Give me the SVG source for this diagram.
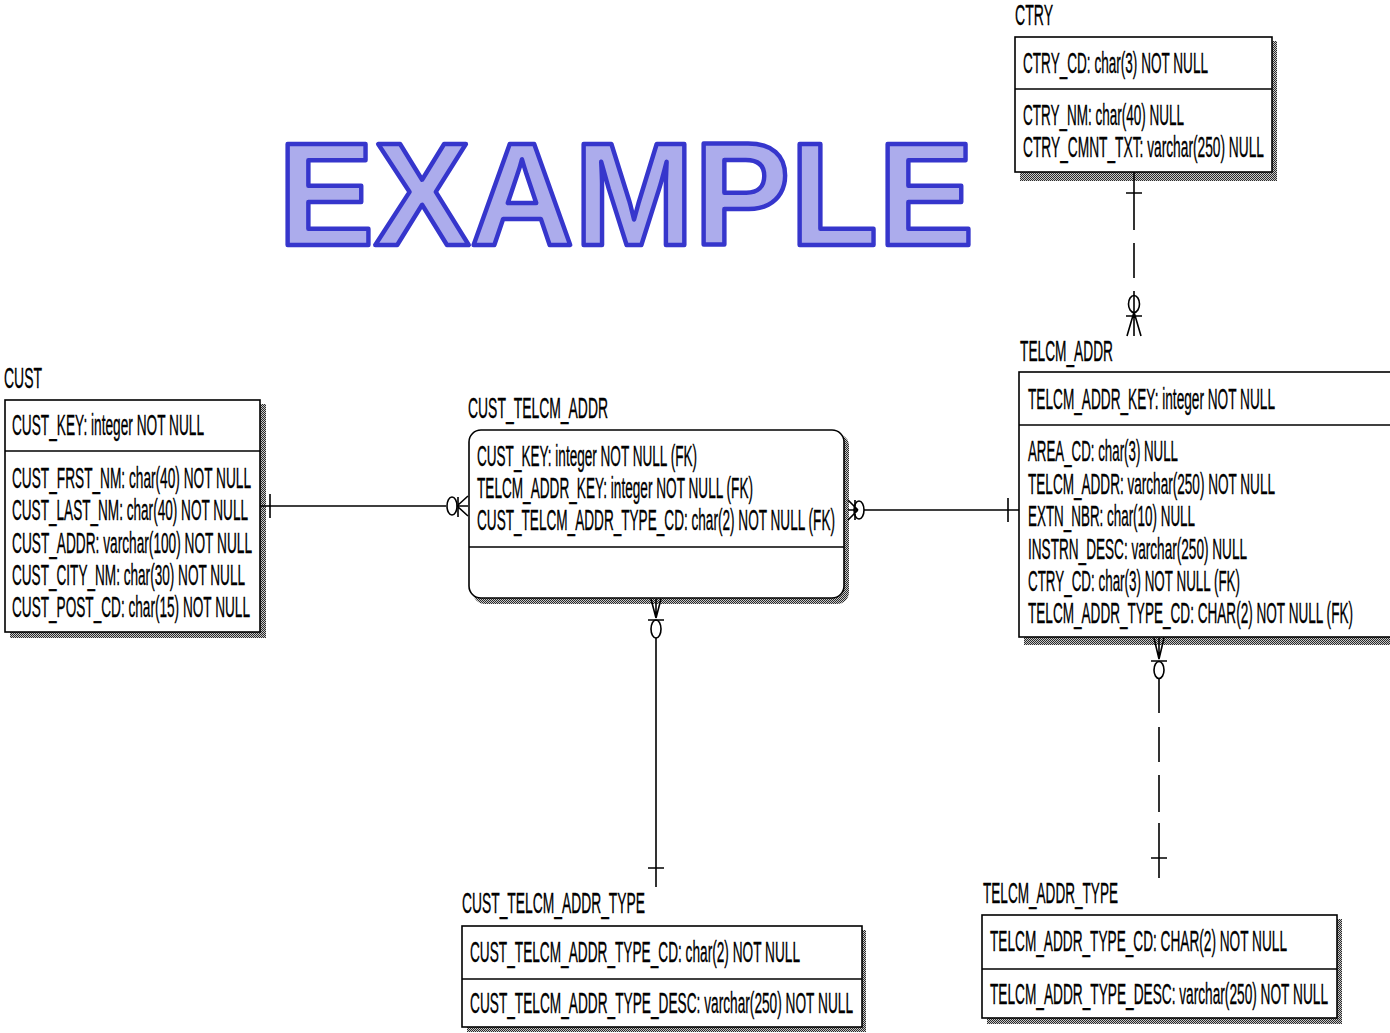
<svg xmlns="http://www.w3.org/2000/svg" width="1390" height="1033" viewBox="0 0 1390 1033">
<defs>
<pattern id="dither" width="2" height="2" patternUnits="userSpaceOnUse"><rect width="2" height="2" fill="#c8c8c8"/><rect width="1" height="1" fill="#2a2a2a"/><rect x="1" y="1" width="1" height="1" fill="#2a2a2a"/></pattern>
<style>
.t{font-family:"Liberation Sans",Arial,sans-serif;font-size:29px;fill:#000;stroke:#000;stroke-width:0.35}
.box{fill:#fff;stroke:#000;stroke-width:1.6}
.sh{fill:url(#dither)}
.div{stroke:#000;stroke-width:1.6}
.c{stroke:#000;stroke-width:1.6;fill:none}
.ex{font-family:"Liberation Sans",Arial,sans-serif;font-weight:bold;font-size:146px;fill:#acacec;stroke:#3636cc;stroke-width:4.5;stroke-linejoin:round}
</style>
</defs>
<rect width="1390" height="1033" fill="#fff"/>
<text class="ex" x="278" y="245" textLength="696" lengthAdjust="spacingAndGlyphs">EXAMPLE</text>

<g id="CTRY">
<text class="t" x="1015" y="25" textLength="38" lengthAdjust="spacingAndGlyphs">CTRY</text>
<rect class="sh" x="1020" y="41" width="257" height="140"/>
<rect class="box" x="1015" y="37" width="257" height="135"/>
<line class="div" x1="1015" y1="89" x2="1272" y2="89"/>
<text class="t" x="1023" y="73" textLength="185" lengthAdjust="spacingAndGlyphs">CTRY_CD: char(3) NOT NULL</text>
<text class="t" x="1023" y="125" textLength="161" lengthAdjust="spacingAndGlyphs">CTRY_NM: char(40) NULL</text>
<text class="t" x="1023" y="157" textLength="241" lengthAdjust="spacingAndGlyphs">CTRY_CMNT_TXT: varchar(250) NULL</text>
</g>

<g id="CUST">
<text class="t" x="4" y="388" textLength="38" lengthAdjust="spacingAndGlyphs">CUST</text>
<rect class="sh" x="10" y="404" width="256" height="234"/>
<rect class="box" x="5" y="400" width="255" height="232"/>
<line class="div" x1="5" y1="451" x2="260" y2="451"/>
<text class="t" x="12" y="435" textLength="192" lengthAdjust="spacingAndGlyphs">CUST_KEY: integer NOT NULL</text>
<text class="t" x="12" y="488" textLength="239" lengthAdjust="spacingAndGlyphs">CUST_FRST_NM: char(40) NOT NULL</text>
<text class="t" x="12" y="520" textLength="236" lengthAdjust="spacingAndGlyphs">CUST_LAST_NM: char(40) NOT NULL</text>
<text class="t" x="12" y="553" textLength="240" lengthAdjust="spacingAndGlyphs">CUST_ADDR: varchar(100) NOT NULL</text>
<text class="t" x="12" y="585" textLength="233" lengthAdjust="spacingAndGlyphs">CUST_CITY_NM: char(30) NOT NULL</text>
<text class="t" x="12" y="617" textLength="238" lengthAdjust="spacingAndGlyphs">CUST_POST_CD: char(15) NOT NULL</text>
</g>

<g id="CUST_TELCM_ADDR">
<text class="t" x="468" y="418" textLength="140" lengthAdjust="spacingAndGlyphs">CUST_TELCM_ADDR</text>
<rect class="sh" x="473" y="434" width="376" height="170" rx="12"/>
<rect class="box" x="469" y="430" width="375" height="168" rx="12"/>
<line class="div" x1="469" y1="547" x2="844" y2="547"/>
<text class="t" x="477" y="466" textLength="220" lengthAdjust="spacingAndGlyphs">CUST_KEY: integer NOT NULL (FK)</text>
<text class="t" x="477" y="498" textLength="276" lengthAdjust="spacingAndGlyphs">TELCM_ADDR_KEY: integer NOT NULL (FK)</text>
<text class="t" x="477" y="530" textLength="358" lengthAdjust="spacingAndGlyphs">CUST_TELCM_ADDR_TYPE_CD: char(2) NOT NULL (FK)</text>
</g>

<g id="TELCM_ADDR">
<text class="t" x="1020" y="361" textLength="93" lengthAdjust="spacingAndGlyphs">TELCM_ADDR</text>
<rect class="sh" x="1024" y="376" width="380" height="269"/>
<rect class="box" x="1019" y="372" width="380" height="265"/>
<line class="div" x1="1019" y1="425" x2="1390" y2="425"/>
<text class="t" x="1028" y="409" textLength="247" lengthAdjust="spacingAndGlyphs">TELCM_ADDR_KEY: integer NOT NULL</text>
<text class="t" x="1028" y="461" textLength="150" lengthAdjust="spacingAndGlyphs">AREA_CD: char(3) NULL</text>
<text class="t" x="1028" y="494" textLength="247" lengthAdjust="spacingAndGlyphs">TELCM_ADDR: varchar(250) NOT NULL</text>
<text class="t" x="1028" y="526" textLength="167" lengthAdjust="spacingAndGlyphs">EXTN_NBR: char(10) NULL</text>
<text class="t" x="1028" y="559" textLength="219" lengthAdjust="spacingAndGlyphs">INSTRN_DESC: varchar(250) NULL</text>
<text class="t" x="1028" y="591" textLength="212" lengthAdjust="spacingAndGlyphs">CTRY_CD: char(3) NOT NULL (FK)</text>
<text class="t" x="1028" y="623" textLength="325" lengthAdjust="spacingAndGlyphs">TELCM_ADDR_TYPE_CD: CHAR(2) NOT NULL (FK)</text>
</g>

<g id="CUST_TELCM_ADDR_TYPE">
<text class="t" x="462" y="913" textLength="183" lengthAdjust="spacingAndGlyphs">CUST_TELCM_ADDR_TYPE</text>
<rect class="sh" x="467" y="930" width="399" height="102"/>
<rect class="box" x="462" y="926" width="400" height="101"/>
<line class="div" x1="462" y1="979" x2="862" y2="979"/>
<text class="t" x="470" y="962" textLength="330" lengthAdjust="spacingAndGlyphs">CUST_TELCM_ADDR_TYPE_CD: char(2) NOT NULL</text>
<text class="t" x="470" y="1013" textLength="383" lengthAdjust="spacingAndGlyphs">CUST_TELCM_ADDR_TYPE_DESC: varchar(250) NOT NULL</text>
</g>

<g id="TELCM_ADDR_TYPE">
<text class="t" x="983" y="903" textLength="135" lengthAdjust="spacingAndGlyphs">TELCM_ADDR_TYPE</text>
<rect class="sh" x="987" y="919" width="355" height="105"/>
<rect class="box" x="982" y="915" width="355" height="103"/>
<line class="div" x1="982" y1="969" x2="1337" y2="969"/>
<text class="t" x="990" y="951" textLength="297" lengthAdjust="spacingAndGlyphs">TELCM_ADDR_TYPE_CD: CHAR(2) NOT NULL</text>
<text class="t" x="990" y="1004" textLength="338" lengthAdjust="spacingAndGlyphs">TELCM_ADDR_TYPE_DESC: varchar(250) NOT NULL</text>
</g>

<g id="connectors">
<!-- CTRY to TELCM_ADDR -->
<path class="c" d="M1134 172V230M1134 243V278M1134 291V336M1126 193H1142M1126 316H1142M1134 312L1127 336M1134 312L1141 336"/>
<ellipse class="c" cx="1134" cy="304" rx="5.5" ry="8.5" fill="#fff"/>
<!-- CUST to CUST_TELCM_ADDR -->
<path class="c" d="M260 506H446M270 494V518M458 497V517M457 506L468 496M457 506L468 516M457 506H468"/>
<ellipse class="c" cx="452" cy="506" rx="5" ry="9" fill="#fff"/>
<!-- CUST_TELCM_ADDR to TELCM_ADDR -->
<path class="c" d="M864 510H1019M1008 498V522M855 500V520M858 510L848 500M858 510L848 520M858 510H848"/>
<ellipse class="c" cx="859" cy="510" rx="5" ry="9" fill="#fff"/>
<!-- CUST_TELCM_ADDR to CUST_TELCM_ADDR_TYPE -->
<path class="c" d="M656 638V887M648 620H664M648 868H664M656 618L651 599M656 618L661 599M656 618V599"/>
<ellipse class="c" cx="656" cy="629" rx="5" ry="9" fill="#fff"/>
<!-- TELCM_ADDR to TELCM_ADDR_TYPE -->
<path class="c" d="M1159 678V713M1159 727V762M1159 775V812M1159 823V878M1151 661H1167M1151 858H1167M1159 659L1154 638M1159 659L1164 638M1159 659V638"/>
<ellipse class="c" cx="1159" cy="670" rx="5" ry="8.5" fill="#fff"/>
</g>
</svg>
